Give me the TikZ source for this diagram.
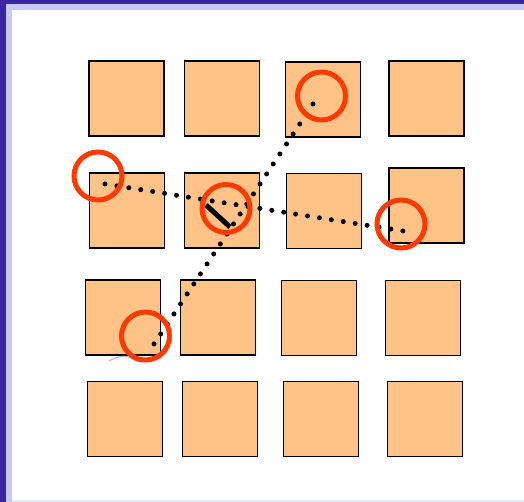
\documentclass[tikz,border=0pt]{standalone}
\begin{document}
\begin{tikzpicture}[x=1pt,y=-1pt,
  tile/.style={draw=black, line width=1.4pt, fill=tilefill, minimum size=75pt, inner sep=0pt, outer sep=0pt},
  ring/.style={draw=ringred, line width=5pt, circle, minimum size=48pt, inner sep=0pt},
  dotline/.style={line width=5pt, line cap=round},
  stroke/.style={line width=5pt, black}]
\definecolor{tilefill}{HTML}{FFC388}
\definecolor{ringred}{HTML}{FF3A00}
\definecolor{darkpurple}{HTML}{3A26A2}
\definecolor{lightlav}{HTML}{C9C9F6}
\useasboundingbox (0,0) rectangle (524,502);
\fill[white] (0,0) rectangle (524,502);
% frame bands
\fill[lightlav] (0,0) rectangle (524,10);
\fill[lightlav] (0,0) rectangle (12,502);
\fill[darkpurple] (0,0) rectangle (524,4);
\fill[darkpurple] (0,0) rectangle (6,502);
\fill[lightlav!40] (12,500) rectangle (524,502);
% tiles
\node[tile] (t11) at (126.5,98.5) {};
\node[tile] (t12) at (222,98.5) {};
\node[tile] (t13) at (323,99.5) {};
\node[tile] (t14) at (426.5,98.5) {};
\node[tile] (t21) at (127,210.5) {};
\node[tile] (t22) at (222,210.5) {};
\node[tile] (t23) at (324,211) {};
\node[tile] (t24) at (426.5,205.5) {};
\node[tile] (t31) at (123,317.5) {};
\node[tile] (t32) at (218,317.5) {};
\node[tile] (t33) at (319,318) {};
\node[tile] (t34) at (423,318) {};
\node[tile] (t41) at (125,419) {};
\node[tile] (t42) at (220,419) {};
\node[tile] (t43) at (321,419) {};
\node[tile] (t44) at (425,419) {};
% scribble
\draw[lightlav!90!blue, line width=1.2pt] (109,361) .. controls (118,356) and (126,355) .. (131,358) .. controls (134,361) and (138,362) .. (143,362);
% dotted paths
\coordinate (a1) at (105,184);
\coordinate (a2) at (403,231);
\coordinate (b1) at (313,104);
\coordinate (b2) at (154,344);
\draw[dotline, dash pattern=on 0pt off 12.06pt] (a1) -- (a2);
\draw[dotline, dash pattern=on 0pt off 11.99pt] (b1) -- (b2);
% black segment
\coordinate (s1) at (206,205);
\coordinate (s2) at (230,227);
\draw[stroke] (s1) -- (s2);
% rings
\node[ring] (r1) at (98,176) {};
\node[ring] (r2) at (226,208.5) {};
\node[ring] (r3) at (321.5,96) {};
\node[ring] (r4) at (401,224) {};
\node[ring] (r5) at (145.5,336) {};
\end{tikzpicture}
\end{document}
